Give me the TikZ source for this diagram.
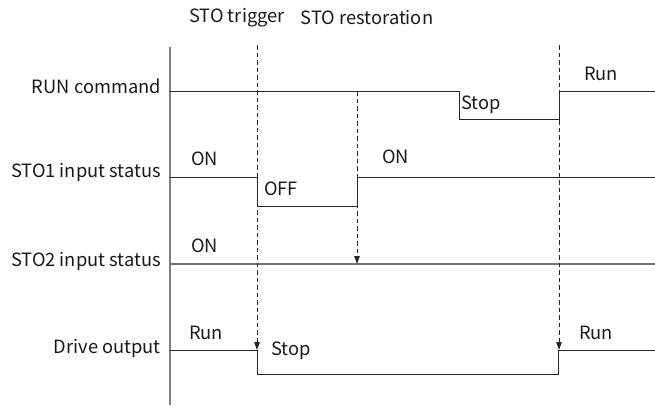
\documentclass[tikz,border=0pt]{standalone}
\usepackage{fontspec}
\setmainfont{Noto Sans CJK SC}
\usetikzlibrary{arrows.meta}
\begin{document}
\begin{tikzpicture}[x=1pt,y=-1pt,
  sig/.style={line width=1pt,draw=black!85},
  sig2/.style={line width=1.6pt,draw=black!55},
  axisline/.style={line width=2pt,draw=black!50},
  guide/.style={dash pattern=on 4.5pt off 3pt,line width=1pt,draw=black!85},
  guidearrow/.style={guide,-{Triangle[length=8pt,width=5.5pt]}},
  lab/.style={font=\fontsize{18.3}{22}\selectfont,inner sep=0pt,text=black!90},
  rowlab/.style={lab,anchor=east}]
\useasboundingbox (0,0) rectangle (655,405);
% axis
\coordinate (axtop) at (170,47);
\coordinate (axbot) at (170,405);
\draw[axisline] (axtop) -- (axbot);
% top labels
\node[lab] (ttrig) at (237,18) {STO trigger};
\node[lab] (trest) at (367,18) {STO restoration};
% row labels
\node[rowlab] (lrun) at (161,86) {RUN command};
\node[rowlab] (lsto1) at (161,172) {STO1 input status};
\node[rowlab] (lsto2) at (161,261) {STO2 input status};
\node[rowlab] (ldrv) at (161,348) {Drive output};
% RUN command
\coordinate (r0) at (170,91);
\coordinate (r1) at (459,91);
\coordinate (r2) at (459,119);
\coordinate (r3) at (559,119);
\coordinate (r4) at (559,91);
\coordinate (r5) at (655,91);
\draw[sig] (r0) -- (r1) -- (r2) -- (r3) -- (r4) -- (r5);
\node[lab,anchor=west] (rstop) at (461,105) {Stop};
\node[lab,anchor=west] (rrun) at (584,74) {Run};
% STO1
\coordinate (a0) at (170,177);
\coordinate (a1) at (257,177);
\coordinate (a2) at (257,206);
\coordinate (a3) at (357,206);
\coordinate (a4) at (357,177);
\coordinate (a5) at (655,177);
\draw[sig] (a0) -- (a1) -- (a2) -- (a3) -- (a4) -- (a5);
\node[lab,anchor=west] (aon1) at (191,159) {ON};
\node[lab,anchor=west] (aoff) at (264,189) {OFF};
\node[lab,anchor=west] (aon2) at (382,157) {ON};
% STO2
\coordinate (b0) at (170,264);
\coordinate (b1) at (655,264);
\draw[sig2] (b0) -- (b1);
\node[lab,anchor=west] (bon) at (191,246) {ON};
% Drive output
\coordinate (d0) at (170,350);
\coordinate (d1) at (257,350);
\coordinate (d2) at (257,374);
\coordinate (d3) at (558,374);
\coordinate (d4) at (558,350);
\coordinate (d5) at (655,350);
\draw[sig] (d0) -- (d1) -- (d2) -- (d3) -- (d4) -- (d5);
\node[lab,anchor=west] (drun1) at (189,333) {Run};
\node[lab,anchor=west] (dstop) at (271,351) {Stop};
\node[lab,anchor=west] (drun2) at (579,333) {Run};
% guides
\coordinate (g1top) at (257,45);
\coordinate (g2top) at (357,91);
\coordinate (g2bot) at (357,264);
\coordinate (g3top) at (559,45);
\coordinate (g3bot) at (559,350);
\draw[guidearrow] (g1top) -- (d1);
\draw[guidearrow] (g2top) -- (g2bot);
\draw[guidearrow] (g3top) -- (g3bot);
\end{tikzpicture}
\end{document}
